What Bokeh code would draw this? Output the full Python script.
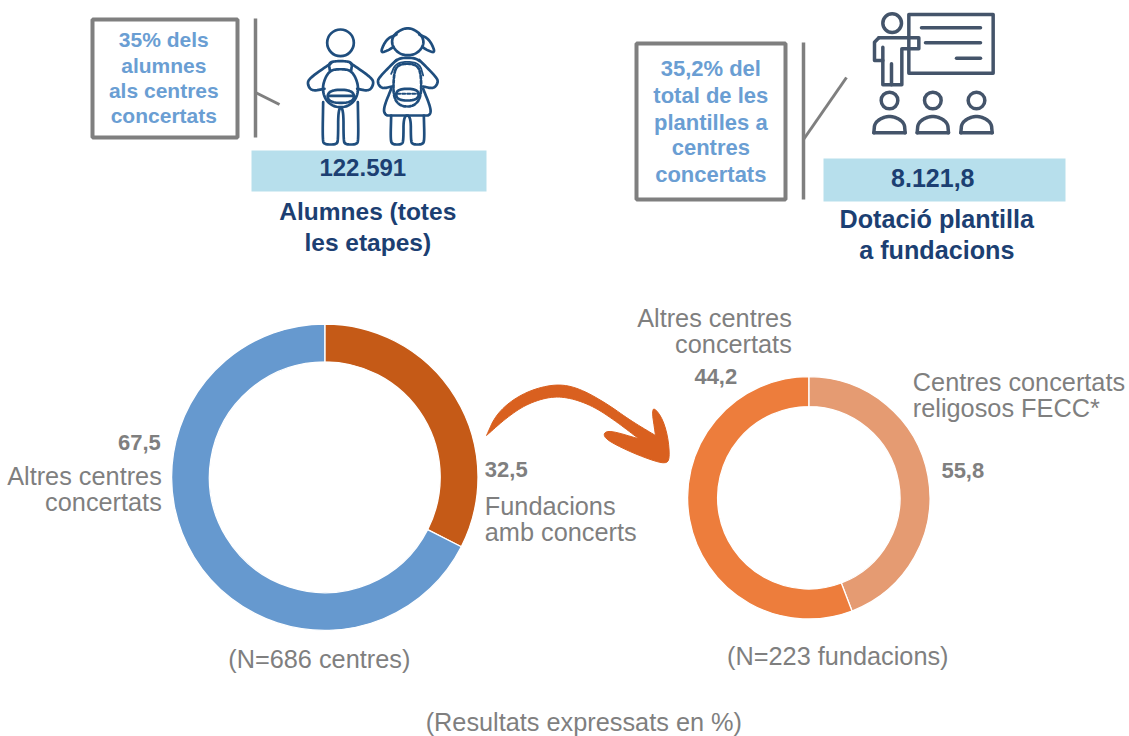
import numpy as np
from bokeh.plotting import figure
from bokeh.models import Range1d
from bokeh.core.properties import value
from bokeh.embed import file_html
from bokeh.resources import INLINE

# ---- chart data ----
centres_labels = ["Fundacions amb concerts", "Altres centres concertats"]
centres_values = [32.5, 67.5]
fundacions_labels = ["Centres concertats religosos FECC*", "Altres centres concertats"]
fundacions_arc_shares = [44.2, 55.8]
value_texts_left = ["32,5", "67,5"]
value_texts_right = ["55,8", "44,2"]
alumnes_total = "122.591"
plantilla_total = "8.121,8"

GREY = "#7f7f7f"
LBLUE = "#6a9ed3"
NAVY = "#1c3f72"
KID = "#1f4e7e"
SLATE = "#44546a"
BAR = "#b7dfec"
FONT = value("Liberation Sans")

p = figure(width=1129, height=736, output_backend="svg", toolbar_location=None,
           x_range=Range1d(0, 1129), y_range=Range1d(736, 0), min_border=0)
p.axis.visible = False
p.grid.visible = False
p.outline_line_color = None
p.background_fill_color = "white"
p.border_fill_color = "white"


def txt(x, y, s, size, color, align="center", bold=False):
    p.text([x - 0.7], [y - 1.3], text=[s], text_font=FONT, text_font_size=f"{size}px", text_color=color,
           text_align=align, text_baseline="middle", text_font_style="bold" if bold else "normal")


def donut(cx, cy, ro, ri, values, colors):
    total = sum(values)
    start = np.pi / 2
    for v, c in zip(values, colors):
        end = start - 2 * np.pi * v / total
        p.annular_wedge([cx], [cy], inner_radius=ri, outer_radius=ro, start_angle=end, end_angle=start,
                        fill_color=c, line_color="white", line_width=1.3)
        start = end


def chaikin(pts, closed=False, n=3):
    pts = np.array(pts, float)
    for _ in range(n):
        a = pts if not closed else np.vstack([pts, pts[:1]])
        q = 0.75 * a[:-1] + 0.25 * a[1:]
        r = 0.25 * a[:-1] + 0.75 * a[1:]
        new = np.empty((2 * len(q), 2))
        new[0::2] = q
        new[1::2] = r
        if not closed:
            new = np.vstack([pts[:1], new, pts[-1:]])
        pts = new
    return pts


def icon_line(pts, ox, oy, color, w, closed=False, smooth=True, dash="solid"):
    a = chaikin(pts, closed) if smooth else np.array(pts, float)
    if closed:
        a = np.vstack([a, a[:1]])
    p.line(ox + a[:, 0] / 3, oy + a[:, 1] / 3, line_color=color, line_width=w,
           line_join="round", line_cap="round", line_dash=dash)


def icon_circle(x, y, r, ox, oy, color, w):
    p.circle([ox + x / 3], [oy + y / 3], radius=r / 3, fill_color=None, line_color=color, line_width=w)


# ---- callout boxes ----
p.quad(left=[92], right=[237], top=[19], bottom=[137], fill_color=None, line_color=GREY, line_width=4)
p.line([255, 255], [18, 137], line_color=GREY, line_width=3.5)
p.line([255, 279], [92, 104], line_color=GREY, line_width=3)
p.quad(left=[636], right=[785], top=[43], bottom=[199], fill_color=None, line_color=GREY, line_width=4)
p.line([803, 803], [42, 199], line_color=GREY, line_width=3.5)
p.line([803, 846], [139, 77], line_color=GREY, line_width=3)

# ---- total bars ----
p.quad(left=[251], right=[486], top=[150], bottom=[191], fill_color=BAR, line_color=None)
p.quad(left=[823], right=[1065], top=[158], bottom=[201], fill_color=BAR, line_color=None)

# ---- kids icon ----
ox, oy = 300, 20
W = 2.7
icon_circle(120, 67, 40, ox, oy, KID, W)
icon_line([(68, 245), (66, 360), (72, 372), (108, 372), (113, 360), (113, 262), (129, 262), (129, 360),
           (134, 372), (168, 372), (174, 360), (172, 245)], ox, oy, KID, W)
icon_line([(92, 128), (28, 172), (20, 190), (33, 212), (72, 205)], ox, oy, KID, W)
icon_line([(150, 128), (214, 172), (220, 190), (207, 212), (170, 205)], ox, oy, KID, W)
icon_line([(88, 150), (85, 128), (100, 122), (140, 122), (155, 128), (152, 150)], ox, oy, KID, W)
icon_line([(72, 235), (65, 195), (85, 150), (120, 145), (155, 150), (175, 195), (168, 235), (140, 260),
           (100, 260)], ox, oy, KID, W, closed=True)
icon_line([(92, 208), (150, 208), (164, 228), (150, 247), (92, 247), (78, 228)], ox, oy, KID, W, closed=True)
icon_line([(84, 226), (158, 226)], ox, oy, KID, W)
# girl
icon_line([(280, 40), (322, 18), (362, 40), (372, 70), (352, 98), (322, 106), (292, 98), (272, 70)], ox, oy, KID, W, closed=True)
icon_line([(288, 42), (258, 55), (238, 98), (262, 90), (278, 80)], ox, oy, KID, W)
icon_line([(356, 42), (386, 55), (406, 98), (382, 90), (366, 80)], ox, oy, KID, W)
icon_line([(272, 285), (270, 360), (276, 372), (304, 372), (309, 360), (309, 285), (331, 285), (331, 360),
           (336, 372), (366, 372), (372, 360), (370, 285)], ox, oy, KID, W)
icon_line([(272, 205), (248, 265), (255, 285), (272, 285), (370, 285), (388, 285), (392, 265), (368, 205)], ox, oy, KID, W)
icon_line([(288, 118), (238, 168), (230, 185), (243, 205), (275, 198)], ox, oy, KID, W)
icon_line([(356, 118), (406, 168), (414, 185), (400, 205), (368, 198)], ox, oy, KID, W)
icon_line([(285, 122), (300, 112), (342, 112), (358, 122)], ox, oy, KID, W)
icon_line([(280, 160), (290, 135), (320, 128), (352, 135), (362, 165), (362, 230), (340, 258), (300, 258),
           (278, 230)], ox, oy, KID, W, closed=True, dash="3 2")
icon_line([(296, 205), (345, 205), (358, 222), (345, 240), (296, 240), (284, 222)], ox, oy, KID, W, closed=True)
icon_line([(290, 220), (352, 220)], ox, oy, KID, 2, dash="3 2")
icon_line([(272, 160), (285, 130), (320, 122), (358, 130), (368, 165)], ox, oy, KID, 1.8)

# ---- teacher icon ----
ox, oy = 860, 5
W = 3.5
p.quad(left=[ox + 145 / 3], right=[ox + 398 / 3], top=[oy + 27 / 3], bottom=[oy + 203 / 3],
       fill_color="white", line_color=SLATE, line_width=W, line_join="round")
for a, b, c in [(183, 360, 67), (195, 360, 112), (288, 360, 158)]:
    icon_line([(a, c), (b, c)], ox, oy, SLATE, W, smooth=False)
icon_circle(95, 53, 28, ox, oy, SLATE, W)
icon_line([(55, 97), (175, 97), (175, 130), (124, 130), (124, 238), (67, 238), (67, 125)], ox, oy, SLATE, W, smooth=False)
icon_line([(67, 165), (42, 165), (42, 110), (55, 97)], ox, oy, SLATE, W, smooth=False)
icon_line([(93, 175), (93, 238)], ox, oy, SLATE, W, smooth=False)
for cx in (87, 217, 348):
    icon_circle(cx, 285, 25, ox, oy, SLATE, W)
    icon_line([(cx - 47, 382), (cx - 44, 348), (cx, 328), (cx + 44, 348), (cx + 47, 382)], ox, oy, SLATE, W)
    icon_line([(cx - 47, 382), (cx + 47, 382)], ox, oy, SLATE, W, smooth=False)

# ---- top texts ----
for y, s in zip([40, 66, 91, 116], ["35% dels", "alumnes", "als centres", "concertats"]):
    txt(164, y, s, 21, LBLUE, bold=True)
for y, s in zip([69, 96, 123, 148, 175], ["35,2% del", "total de les", "plantilles a", "centres", "concertats"]):
    txt(711, y, s, 22, LBLUE, bold=True)
txt(363, 168, alumnes_total, 24, NAVY, bold=True)
txt(933, 179, plantilla_total, 25, NAVY, bold=True)
txt(368, 212, "Alumnes (totes", 24.5, NAVY, bold=True)
txt(368, 243, "les etapes)", 24.5, NAVY, bold=True)
txt(937, 220, "Dotació plantilla", 25.2, NAVY, bold=True)
txt(937, 251, "a fundacions", 25.2, NAVY, bold=True)

# ---- donuts ----
donut(324.3, 476.7, 153.2, 115.4, centres_values, ["#c55a17", "#6699cf"])
donut(808.3, 497.3, 121.2, 91.2, fundacions_arc_shares, ["#e59b72", "#ed7d3c"])

# ---- arrow ----
edge_top = [(48, 195), (75, 135), (125, 88), (190, 55), (265, 40), (330, 55), (410, 100), (480, 150), (555, 195)]
edge_head = [(555, 195), (542, 105), (572, 135), (592, 195), (598, 265), (585, 280), (540, 268), (470, 240),
             (408, 208), (398, 188), (420, 180), (505, 205)]
edge_low = [(505, 205), (440, 155), (370, 108), (300, 82), (240, 78), (170, 100), (110, 140), (48, 195)]
a = np.vstack([chaikin(edge_top), chaikin(edge_head, n=2), chaikin(edge_low)])
p.patch(470 + a[:, 0] / 3, 370 + a[:, 1] / 3, fill_color="#d9601f", line_color="#d9601f", line_width=1, line_join="round")

# ---- donut texts ----
txt(161, 443, value_texts_left[1], 22, GREY, "right", True)
txt(162, 477, "Altres centres", 25.3, GREY, "right")
txt(162, 503, "concertats", 25.3, GREY, "right")
txt(485, 470, value_texts_left[0], 22, GREY, "left", True)
txt(485, 507, "Fundacions", 25.3, GREY, "left")
txt(485, 533, "amb concerts", 25.3, GREY, "left")
txt(319.5, 660, "(N=686 centres)", 25.3, GREY)
txt(792, 319, "Altres centres", 25.3, GREY, "right")
txt(792, 345, "concertats", 25.3, GREY, "right")
txt(716, 377, value_texts_right[1], 22, GREY, "center", True)
txt(913, 383, "Centres concertats", 25.3, GREY, "left")
txt(913, 409, "religosos FECC*", 25.3, GREY, "left")
txt(963, 471, value_texts_right[0], 22, GREY, "center", True)
txt(838, 657, "(N=223 fundacions)", 25.3, GREY)
txt(584, 723, "(Resultats expressats en %)", 25.3, GREY)

open("out.html", "w").write(file_html(p, INLINE))
